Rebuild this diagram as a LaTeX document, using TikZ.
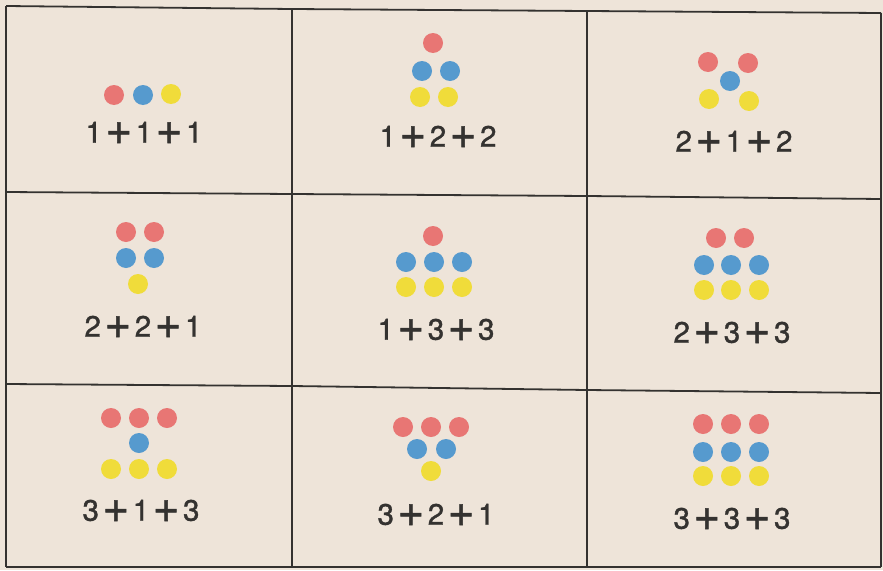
\documentclass[tikz,border=0pt]{standalone}
\usepackage{fontspec}
\setmainfont{TeX Gyre Heros}
\newfontfamily\lblfont[FakeBold=1.2]{TeX Gyre Heros}
\definecolor{paper}{RGB}{238,228,217}
\definecolor{dred}{RGB}{232,118,116}
\definecolor{dblue}{RGB}{86,154,206}
\definecolor{dyellow}{RGB}{240,220,58}
\definecolor{ink}{RGB}{52,50,48}
\newcommand\pl{\hspace{3.5pt}\raisebox{-1.5pt}{\fontsize{46}{46}\selectfont +}\hspace{3.5pt}}
\tikzset{
  gridline/.style={draw=ink, line width=1.8pt},
  lbl/.style={text=ink, font=\lblfont\fontsize{29.5}{30}\selectfont, inner sep=0pt},
  rd/.style={fill=dred},
  bd/.style={fill=dblue},
  yd/.style={fill=dyellow}
}
\newcommand\dotat[3]{\fill[#1] (#2,#3) circle (10);}
\begin{document}
\begin{tikzpicture}[x=1pt,y=-1pt]
\fill[paper] (0,0) rectangle (883,570);
\useasboundingbox (0,0) rectangle (883,570);
% grid corners
\coordinate (a0) at (6,6);   \coordinate (a1) at (292,9);  \coordinate (a2) at (587,11); \coordinate (a3) at (881,13);
\coordinate (b0) at (6,192); \coordinate (b1) at (292,194);\coordinate (b2) at (587,196);\coordinate (b3) at (881,199);
\coordinate (c0) at (6,384); \coordinate (c1) at (292,386);\coordinate (c2) at (587,390);\coordinate (c3) at (881,393);
\coordinate (d0) at (6,567); \coordinate (d1) at (292,567);\coordinate (d2) at (587,567);\coordinate (d3) at (881,567);
\draw[gridline] (a0) -- (a1) -- (a2) -- (a3);
\draw[gridline] (b0) -- (b1) -- (b2) -- (b3);
\draw[gridline] (c0) -- (c1) -- (c2) -- (c3);
\draw[gridline] (d0) -- (d1) -- (d2) -- (d3);
\draw[gridline] (a0) -- (b0) -- (c0) -- (d0);
\draw[gridline] (a1) -- (b1) -- (c1) -- (d1);
\draw[gridline] (a2) -- (b2) -- (c2) -- (d2);
\draw[gridline] (a3) -- (b3) -- (c3) -- (d3);
% cell 1: 1+1+1
\dotat{rd}{114}{95}\dotat{bd}{143}{95}\dotat{yd}{171}{94}
\node[lbl] (t1) at (144,133) {1\pl1\pl1};
% cell 2: 1+2+2
\dotat{rd}{433}{43}
\dotat{bd}{422}{71}\dotat{bd}{450}{71}
\dotat{yd}{420}{97}\dotat{yd}{448}{97}
\node[lbl] (t2) at (438,137) {1\pl2\pl2};
% cell 3: 2+1+2
\dotat{rd}{708}{62}\dotat{rd}{748}{63}
\dotat{bd}{730}{81}
\dotat{yd}{709}{99}\dotat{yd}{749}{101}
\node[lbl] (t3) at (734,142) {2\pl1\pl2};
% cell 4: 2+2+1
\dotat{rd}{126}{232}\dotat{rd}{154}{232}
\dotat{bd}{126}{258}\dotat{bd}{154}{258}
\dotat{yd}{138}{284}
\node[lbl] (t4) at (143,327) {2\pl2\pl1};
% cell 5: 1+3+3
\dotat{rd}{433}{236}
\dotat{bd}{406}{262}\dotat{bd}{434}{262}\dotat{bd}{462}{262}
\dotat{yd}{406}{287}\dotat{yd}{434}{287}\dotat{yd}{462}{287}
\node[lbl] (t5) at (436,330) {1\pl3\pl3};
% cell 6: 2+3+3
\dotat{rd}{716}{238}\dotat{rd}{744}{238}
\dotat{bd}{704}{265}\dotat{bd}{731}{265}\dotat{bd}{759}{265}
\dotat{yd}{704}{290}\dotat{yd}{731}{290}\dotat{yd}{759}{290}
\node[lbl] (t6) at (732,333) {2\pl3\pl3};
% cell 7: 3+1+3
\dotat{rd}{111}{418}\dotat{rd}{139}{418}\dotat{rd}{167}{418}
\dotat{bd}{139}{443}
\dotat{yd}{111}{469}\dotat{yd}{139}{469}\dotat{yd}{167}{469}
\node[lbl] (t7) at (141,511) {3\pl1\pl3};
% cell 8: 3+2+1
\dotat{rd}{403}{427}\dotat{rd}{431}{427}\dotat{rd}{459}{427}
\dotat{bd}{417}{449}\dotat{bd}{446}{449}
\dotat{yd}{431}{471}
\node[lbl] (t8) at (436,515) {3\pl2\pl1};
% cell 9: 3+3+3
\dotat{rd}{703}{424}\dotat{rd}{731}{424}\dotat{rd}{759}{424}
\dotat{bd}{703}{452}\dotat{bd}{731}{452}\dotat{bd}{759}{452}
\dotat{yd}{703}{476}\dotat{yd}{731}{476}\dotat{yd}{759}{476}
\node[lbl] (t9) at (732,519) {3\pl3\pl3};
\end{tikzpicture}
\end{document}
